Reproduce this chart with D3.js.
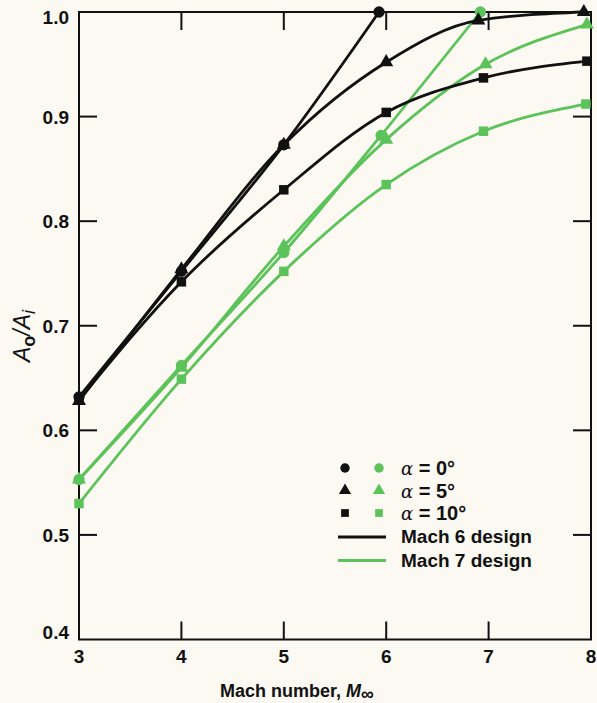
<!DOCTYPE html>
<html><head><meta charset="utf-8">
<script src="https://cdn.jsdelivr.net/npm/d3@7"></script>
<style>body{margin:0;background:#fbf9f2;} svg{display:block;}</style>
</head><body>
<script>
// Data (Mach number, Ao/Ai)
const mach6_a0 = [[3,0.632],[4,0.752],[5,0.873],[5.93,1.0]];
const mach6_a5 = [[3,0.628],[4,0.754],[5,0.873],[6,0.952],[6.9,0.992],[7.93,1.0]];
const mach6_a10 = [[3,0.629],[4,0.742],[5,0.830],[6,0.904],[6.95,0.937],[7.96,0.953]];
const mach7_a0 = [[3,0.553],[4,0.662],[5,0.770],[5.95,0.882],[6.92,1.0]];
const mach7_a5 = [[3,0.553],[4,0.660],[5,0.776],[6.0,0.878],[6.97,0.950],[7.96,0.988]];
const mach7_a10 = [[3,0.530],[4,0.649],[5,0.752],[6.0,0.835],[6.95,0.886],[7.95,0.912]];
const xTicks = [3,4,5,6,7,8];
const yTicks = [0.4,0.5,0.6,0.7,0.8,0.9,1.0];
const legendRows = [
  {shape:"circle", label:"0°"},
  {shape:"triangle", label:"5°"},
  {shape:"square", label:"10°"}
];
const designNames = ["Mach 6 design","Mach 7 design"];

const W=597,H=703;
const BLACK="#111", GREEN="#5cc35a";
const svg=d3.select("body").append("svg").attr("width",W).attr("height",H);
svg.append("rect").attr("width",W).attr("height",H).attr("fill","#fbf9f2");

const x=d3.scaleLinear().domain([3,8]).range([79,591]);
const y=d3.scaleLinear().domain([0.4,1.0]).range([639.5,12]);

const font="Liberation Sans, Arial, Helvetica, sans-serif";

// frame
svg.append("rect").attr("x",x(3)).attr("y",y(1)).attr("width",x(8)-x(3)).attr("height",y(0.4)-y(1))
  .attr("fill","none").attr("stroke","#111").attr("stroke-width",2);

// ticks inward
const tl=18;
const inner=xTicks.slice(1,-1);
const innerY=yTicks.slice(1,-1);
const tk=svg.append("g").attr("stroke","#111").attr("stroke-width",2);
inner.forEach(v=>{
  tk.append("line").attr("x1",x(v)).attr("x2",x(v)).attr("y1",y(0.4)).attr("y2",y(0.4)-tl);
  tk.append("line").attr("x1",x(v)).attr("x2",x(v)).attr("y1",y(1)).attr("y2",y(1)+tl);
});
innerY.forEach(v=>{
  tk.append("line").attr("x1",x(3)).attr("x2",x(3)+tl).attr("y1",y(v)).attr("y2",y(v));
  tk.append("line").attr("x1",x(8)).attr("x2",x(8)-tl).attr("y1",y(v)).attr("y2",y(v));
});

// tick labels
svg.append("g").selectAll("text").data(xTicks).join("text")
  .attr("x",d=>x(d)).attr("y",663).attr("text-anchor","middle")
  .attr("font-family",font).attr("font-weight","bold").attr("font-size",19).attr("fill","#111")
  .text(d=>d);
svg.append("g").selectAll("text").data(yTicks).join("text")
  .attr("x",69).attr("y",d=>{const v=y(d)+7; return d===1?Math.max(v,24):(d===0.4?Math.min(v,639):v);})
  .attr("text-anchor","end")
  .attr("font-family",font).attr("font-weight","bold").attr("font-size",19).attr("fill","#111")
  .text(d=>d.toFixed(1));

// axis titles
const xt=svg.append("text").attr("x",297).attr("y",697).attr("text-anchor","middle")
  .attr("font-family",font).attr("font-size",18).attr("fill","#111").attr("font-weight","bold");
xt.append("tspan").text("Mach number, ");
xt.append("tspan").attr("font-style","italic").text("M");
xt.append("tspan").attr("font-size",18).attr("dy",3).text("∞");

const yt=svg.append("text").attr("transform","translate(30,336) rotate(-90)").attr("text-anchor","middle")
  .attr("font-family",font).attr("font-size",23).attr("fill","#111");
yt.append("tspan").attr("font-style","italic").text("A");
yt.append("tspan").attr("font-size",18).attr("font-weight","bold").attr("dy",5).text("o");
yt.append("tspan").attr("font-style","italic").attr("dy",-5).text("/A");
yt.append("tspan").attr("font-style","italic").attr("font-size",18).attr("dy",5).text("i");

// lines
const line=d3.line().x(d=>x(d[0])).y(d=>y(d[1])).curve(d3.curveMonotoneX);
const series=[
  {d:mach7_a10,c:GREEN,s:"square"},
  {d:mach7_a5,c:GREEN,s:"triangle"},
  {d:mach7_a0,c:GREEN,s:"circle"},
  {d:mach6_a10,c:BLACK,s:"square"},
  {d:mach6_a5,c:BLACK,s:"triangle"},
  {d:mach6_a0,c:BLACK,s:"circle"}
];
const sym={circle:d3.symbol().type(d3.symbolCircle).size(100),
  triangle:d3.symbol().type(d3.symbolTriangle).size(85),
  square:d3.symbol().type(d3.symbolSquare).size(90)};
series.forEach(s=>{
  svg.append("path").attr("d",line(s.d)).attr("fill","none").attr("stroke",s.c).attr("stroke-width",2.8);
});
series.forEach(s=>{
  svg.append("g").selectAll("path").data(s.d).join("path")
    .attr("transform",d=>`translate(${x(d[0])},${y(d[1])})`)
    .attr("d",sym[s.s]).attr("fill",s.c);
});

// legend
const lg=svg.append("g");
const lsym={circle:d3.symbol().type(d3.symbolCircle).size(70),
  triangle:d3.symbol().type(d3.symbolTriangle).size(65),
  square:d3.symbol().type(d3.symbolSquare).size(60)};
legendRows.forEach((r,i)=>{
  const yy=468+i*22.5;
  lg.append("path").attr("transform",`translate(345,${yy})`).attr("d",lsym[r.shape]).attr("fill",BLACK);
  lg.append("path").attr("transform",`translate(379,${yy})`).attr("d",lsym[r.shape]).attr("fill",GREEN);
  const t=lg.append("text").attr("x",401).attr("y",yy+7).attr("font-family",font).attr("font-size",20).attr("fill","#111");
  t.append("tspan").attr("font-style","italic").attr("font-family","DejaVu Serif, serif").attr("font-size",18).text("α");
  t.append("tspan").attr("font-weight","bold").text(" = "+r.label);
});
designNames.forEach((n,i)=>{
  const yy=537+i*23.5;
  lg.append("line").attr("x1",338).attr("x2",386).attr("y1",yy).attr("y2",yy)
    .attr("stroke",i===0?BLACK:GREEN).attr("stroke-width",3);
  lg.append("text").attr("x",401).attr("y",yy+6).attr("font-family",font).attr("font-weight","bold")
    .attr("font-size",19).attr("fill","#111").text(n);
});
</script>
</body></html>
